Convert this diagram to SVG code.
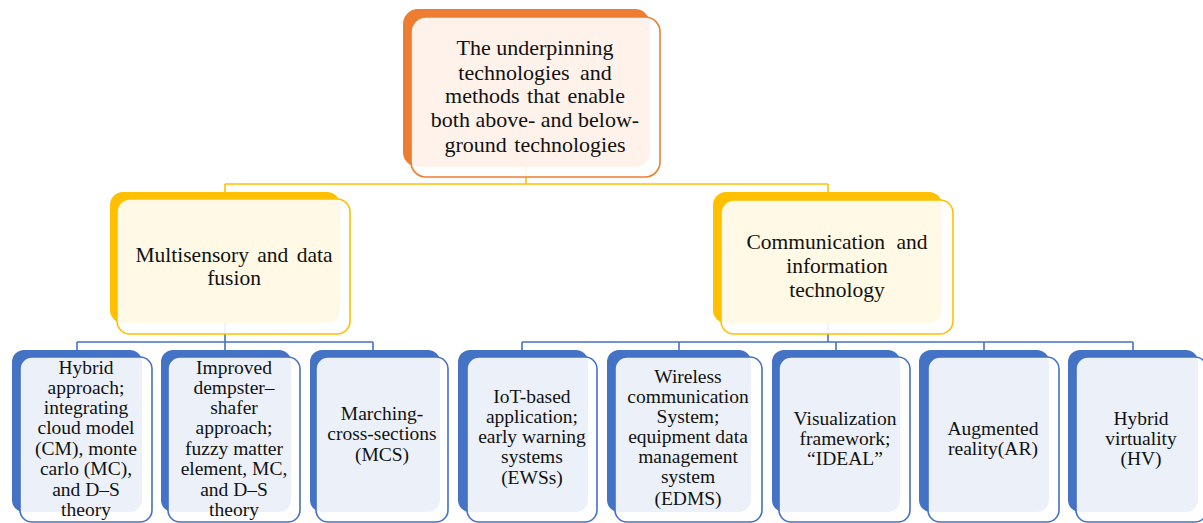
<svg xmlns="http://www.w3.org/2000/svg" width="1203" height="523" viewBox="0 0 1203 523">
<style>
.t{font-family:"Liberation Serif","DejaVu Serif","Times New Roman",serif;fill:#111;text-anchor:middle}
.t0{font-size:22px}
.t1{font-size:21.5px}
.t2{font-size:19.5px}
.front{fill:#fff;fill-opacity:0.9;stroke-width:1.6}
.cy{stroke:#FFC000;stroke-width:1.6;fill:none}
.cb{stroke:#4472C4;stroke-width:1.6;fill:none}
</style>
<rect width="1203" height="523" fill="#fff"/>
<g id="connectors">
<path class="cy" d="M526,167V184M225,184H828M225,184V192M828,184V192"/>
<path class="cb" d="M225,323V342M77,342H373M77,342V350M225,342V350M373,342V350"/>
<path class="cb" d="M828,323V342M522,342H1133M522,342V350M679,342V350M836,342V350M984,342V350M1133,342V350"/>
</g>
<g id="n-top">
<rect x="403" y="9" width="247" height="158" rx="15" fill="#ED7D31"/>
<rect class="front" x="411" y="17" width="249" height="160" rx="15" stroke="#ED7D31"/>
<text class="t t0" font-family="Liberation Serif, DejaVu Serif, serif"><tspan x="535" y="55">The underpinning</tspan><tspan x="535" y="80" word-spacing="5">technologies and</tspan><tspan x="535" y="103" word-spacing="2">methods that enable</tspan><tspan x="535" y="127">both above- and below-</tspan><tspan x="535" y="152" word-spacing="2">ground technologies</tspan></text>
</g>
<g id="n-multisensory">
<rect x="110" y="192" width="230" height="131" rx="13" fill="#FFC000"/>
<rect class="front" x="117" y="199" width="233" height="135" rx="13" stroke="#FFC000"/>
<text class="t t1"><tspan x="234" y="262" word-spacing="3">Multisensory and data</tspan><tspan x="234" y="285">fusion</tspan></text>
</g>
<g id="n-communication">
<rect x="713" y="192" width="229" height="131" rx="13" fill="#FFC000"/>
<rect class="front" x="721" y="200" width="232" height="134" rx="13" stroke="#FFC000"/>
<text class="t t1"><tspan x="837" y="249" word-spacing="6">Communication and</tspan><tspan x="837" y="273">information</tspan><tspan x="837" y="297">technology</tspan></text>
</g>
<g id="n-hybrid-approach">
<rect x="12" y="350" width="130" height="162" rx="12" fill="#4472C4"/>
<rect class="front" x="20" y="357" width="132" height="165" rx="12" stroke="#4472C4"/>
<text class="t t2"><tspan x="86" y="374">Hybrid</tspan><tspan x="86" y="394">approach;</tspan><tspan x="86" y="414">integrating</tspan><tspan x="86" y="434">cloud model</tspan><tspan x="86" y="455">(CM), monte</tspan><tspan x="86" y="475">carlo (MC),</tspan><tspan x="86" y="496">and D–S</tspan><tspan x="86" y="516">theory</tspan></text>
</g>
<g id="n-dempster">
<rect x="161" y="350" width="130" height="162" rx="12" fill="#4472C4"/>
<rect class="front" x="168" y="357" width="132" height="165" rx="12" stroke="#4472C4"/>
<text class="t t2"><tspan x="234" y="374">Improved</tspan><tspan x="234" y="394">dempster–</tspan><tspan x="234" y="414">shafer</tspan><tspan x="234" y="434">approach;</tspan><tspan x="234" y="455">fuzzy matter</tspan><tspan x="234" y="475">element, MC,</tspan><tspan x="234" y="496">and D–S</tspan><tspan x="234" y="516">theory</tspan></text>
</g>
<g id="n-mcs">
<rect x="310" y="350" width="130" height="162" rx="12" fill="#4472C4"/>
<rect class="front" x="316" y="357" width="132" height="165" rx="12" stroke="#4472C4"/>
<text class="t t2"><tspan x="382" y="420">Marching-</tspan><tspan x="382" y="440">cross-sections</tspan><tspan x="382" y="461">(MCS)</tspan></text>
</g>
<g id="n-iot">
<rect x="458" y="350" width="130" height="162" rx="12" fill="#4472C4"/>
<rect class="front" x="467" y="357" width="130" height="165" rx="12" stroke="#4472C4"/>
<text class="t t2"><tspan x="532" y="403">IoT-based</tspan><tspan x="532" y="423">application;</tspan><tspan x="532" y="443">early warning</tspan><tspan x="532" y="463">systems</tspan><tspan x="532" y="484">(EWSs)</tspan></text>
</g>
<g id="n-wireless">
<rect x="607" y="350" width="144" height="162" rx="12" fill="#4472C4"/>
<rect class="front" x="615" y="357" width="147" height="165" rx="12" stroke="#4472C4"/>
<text class="t t2"><tspan x="688" y="383">Wireless</tspan><tspan x="688" y="403">communication</tspan><tspan x="688" y="423">System;</tspan><tspan x="688" y="443">equipment data</tspan><tspan x="688" y="463">management</tspan><tspan x="688" y="483">system</tspan><tspan x="688" y="505">(EDMS)</tspan></text>
</g>
<g id="n-visualization">
<rect x="772" y="350" width="128" height="162" rx="12" fill="#4472C4"/>
<rect class="front" x="779" y="357" width="131" height="165" rx="12" stroke="#4472C4"/>
<text class="t t2"><tspan x="845" y="425">Visualization</tspan><tspan x="845" y="445">framework;</tspan><tspan x="845" y="465">“IDEAL”</tspan></text>
</g>
<g id="n-ar">
<rect x="919" y="350" width="130" height="162" rx="12" fill="#4472C4"/>
<rect class="front" x="928" y="357" width="131" height="165" rx="12" stroke="#4472C4"/>
<text class="t t2"><tspan x="993" y="435">Augmented</tspan><tspan x="993" y="455">reality(AR)</tspan></text>
</g>
<g id="n-hv">
<rect x="1068" y="350" width="130" height="162" rx="12" fill="#4472C4"/>
<rect class="front" x="1076" y="357" width="131" height="165" rx="12" stroke="#4472C4"/>
<text class="t t2"><tspan x="1141" y="425">Hybrid</tspan><tspan x="1141" y="445">virtuality</tspan><tspan x="1141" y="465">(HV)</tspan></text>
</g>
</svg>
